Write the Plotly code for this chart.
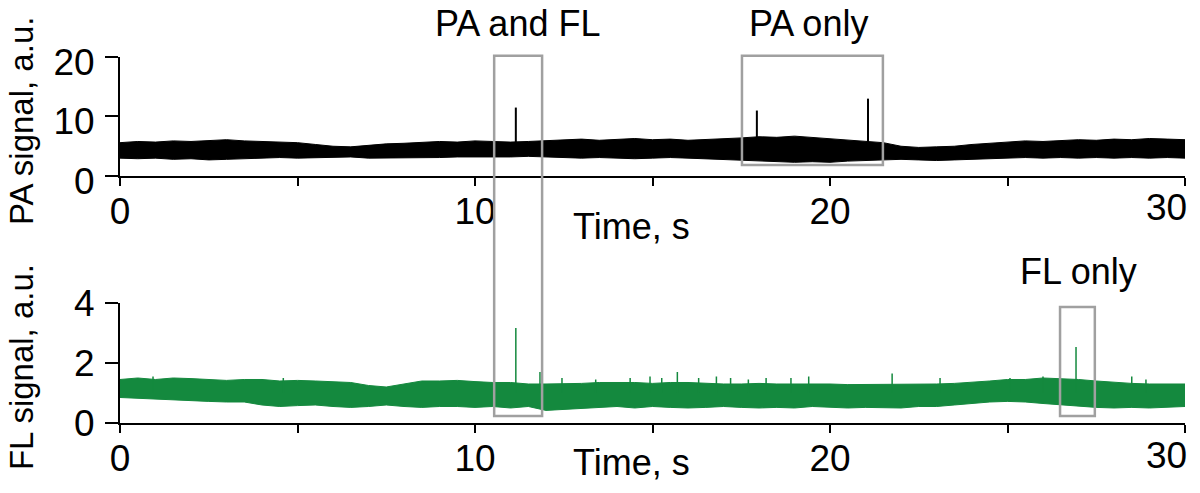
import plotly.graph_objects as go

# ---------------- data ----------------
time_knots = [i * 0.5 for i in range(61)]  # 0 .. 30 s

pa_upper = [5.6, 5.8, 5.7, 5.9, 5.8, 6.0, 6.1, 5.9, 5.8, 5.7,
            5.6, 5.3, 5.0, 4.9, 5.2, 5.4, 5.5, 5.6, 5.8, 5.7,
            5.9, 5.8, 5.7, 5.8, 5.9, 6.1, 6.2, 6.0, 6.2, 6.3,
            6.1, 6.2, 6.0, 6.1, 6.3, 6.4, 6.6, 6.5, 6.7, 6.5,
            6.3, 6.0, 5.8, 5.6, 5.0, 4.8, 4.9, 5.0, 5.3, 5.5,
            5.7, 5.9, 5.8, 6.0, 6.1, 6.0, 6.2, 6.1, 6.3, 6.2, 6.1]
pa_lower = [3.0, 2.9, 3.0, 2.8, 2.9, 2.7, 2.8, 2.9, 3.0, 3.1,
            3.0, 3.1, 3.1, 3.2, 3.0, 3.0, 3.1, 3.0, 3.1, 3.2,
            3.2, 3.1, 3.2, 3.3, 3.2, 3.1, 3.0, 3.1, 3.0, 2.9,
            3.0, 3.1, 3.0, 2.9, 2.8, 2.6, 2.5, 2.4, 2.3, 2.4,
            2.3, 2.5, 2.6, 2.7, 2.8, 2.7, 2.6, 2.7, 2.8, 2.9,
            3.0, 3.1, 3.0, 3.1, 3.0, 3.1, 3.0, 3.1, 3.0, 3.1, 3.0]

fl_upper = [1.45, 1.50, 1.45, 1.50, 1.48, 1.45, 1.42, 1.45, 1.45, 1.40,
            1.42, 1.40, 1.38, 1.35, 1.25, 1.20, 1.30, 1.40, 1.40, 1.42,
            1.38, 1.35, 1.35, 1.30, 1.30, 1.30, 1.32, 1.35, 1.35, 1.35,
            1.32, 1.35, 1.35, 1.32, 1.30, 1.30, 1.32, 1.30, 1.30, 1.32,
            1.30, 1.28, 1.28, 1.30, 1.28, 1.30, 1.30, 1.32, 1.35, 1.40,
            1.45, 1.45, 1.50, 1.48, 1.45, 1.40, 1.35, 1.32, 1.30, 1.30, 1.30]
fl_lower = [0.85, 0.82, 0.80, 0.78, 0.75, 0.72, 0.70, 0.70, 0.60, 0.55,
            0.58, 0.60, 0.55, 0.52, 0.55, 0.60, 0.55, 0.52, 0.55, 0.55,
            0.52, 0.55, 0.50, 0.55, 0.42, 0.45, 0.50, 0.52, 0.55, 0.50,
            0.55, 0.52, 0.50, 0.52, 0.55, 0.52, 0.50, 0.52, 0.50, 0.55,
            0.52, 0.50, 0.52, 0.50, 0.50, 0.55, 0.55, 0.60, 0.65, 0.70,
            0.72, 0.70, 0.65, 0.60, 0.55, 0.52, 0.50, 0.52, 0.50, 0.52, 0.55]

# detected events (time, peak height)
pa_spike_t = [11.15, 17.94, 21.07]
pa_spike_v = [11.5, 11.0, 13.0]
pa_base = 4.2

fl_spike_t = [11.15, 26.93]
fl_spike_v = [3.17, 2.53]
fl_base = 1.0

# small noise spikes in FL trace
fl_small_t = [0.93, 4.6, 11.83, 12.45, 13.4, 14.37, 14.93, 15.26, 15.7, 16.3,
              16.8, 17.2, 17.7, 18.2, 18.9, 19.4, 21.75, 23.1, 25.07, 26.0,
              28.5, 28.9]
fl_small_v = [1.55, 1.50, 1.70, 1.50, 1.45, 1.50, 1.55, 1.50, 1.70, 1.50,
              1.55, 1.50, 1.45, 1.50, 1.50, 1.55, 1.65, 1.50, 1.50, 1.55,
              1.55, 1.45]

# highlight boxes: (x0, x1, bottom value, bottom axis, top value, top axis)
boxes = [
    (10.54, 11.89, 0.23, "y2", 20.2, "y"),
    (17.52, 21.49, 1.83, "y", 20.2, "y"),
    (26.48, 27.46, 0.23, "y2", 3.87, "y2"),
]
box_labels = ["PA and FL", "PA only", "FL only"]
label_x = [11.2, 19.4, 27.0]

x_ticks = [0, 5, 10, 15, 20, 25, 30]
x_ticktext = ["0", "", "10", "", "20", "", ""]
x_last_label = "30"
pa_ticks = [0, 10, 20]
fl_ticks = [0, 2, 4]

# ---------------- style ----------------
BLACK = "#000000"
GREEN = "#14893e"
GRAY = "#a0a0a0"
FONT = "Liberation Sans, Arial, sans-serif"
PLOT_H = 493 - 57 - 70  # px

top_dom = [0.6749, 1.0]
bot_dom = [0.0, 0.3279]
pa_range = [0, 20]
fl_range = [0, 4]


def to_paper(v, axis):
    dom, rng = (top_dom, pa_range) if axis == "y" else (bot_dom, fl_range)
    return dom[0] + (v - rng[0]) / (rng[1] - rng[0]) * (dom[1] - dom[0])


def spikes(ts, vs, base):
    xs, ys = [], []
    for t, v in zip(ts, vs):
        xs += [t, t, None]
        ys += [base, v, None]
    return xs, ys


fig = go.Figure()

# PA band
fig.add_trace(go.Scatter(x=time_knots, y=pa_lower, mode="lines",
                         line=dict(color=BLACK, width=1), xaxis="x", yaxis="y",
                         showlegend=False, hoverinfo="skip"))
fig.add_trace(go.Scatter(x=time_knots, y=pa_upper, mode="lines", fill="tonexty",
                         fillcolor=BLACK, line=dict(color=BLACK, width=1),
                         xaxis="x", yaxis="y", showlegend=False))
sx, sy = spikes(pa_spike_t, pa_spike_v, pa_base)
fig.add_trace(go.Scatter(x=sx, y=sy, mode="lines", line=dict(color=BLACK, width=2),
                         xaxis="x", yaxis="y", showlegend=False))

# FL band
fig.add_trace(go.Scatter(x=time_knots, y=fl_lower, mode="lines",
                         line=dict(color=GREEN, width=1), xaxis="x2", yaxis="y2",
                         showlegend=False, hoverinfo="skip"))
fig.add_trace(go.Scatter(x=time_knots, y=fl_upper, mode="lines", fill="tonexty",
                         fillcolor=GREEN, line=dict(color=GREEN, width=1),
                         xaxis="x2", yaxis="y2", showlegend=False))
sx, sy = spikes(fl_small_t, fl_small_v, fl_base)
fig.add_trace(go.Scatter(x=sx, y=sy, mode="lines", line=dict(color=GREEN, width=1.5),
                         xaxis="x2", yaxis="y2", showlegend=False))
sx, sy = spikes(fl_spike_t, fl_spike_v, fl_base)
fig.add_trace(go.Scatter(x=sx, y=sy, mode="lines", line=dict(color=GREEN, width=1.5),
                         xaxis="x2", yaxis="y2", showlegend=False))

shapes = []
for x0, x1, b, bax, t, tax in boxes:
    shapes.append(dict(type="rect", xref="x", yref="paper", x0=x0, x1=x1,
                       y0=to_paper(b, bax), y1=to_paper(t, tax),
                       line=dict(color=GRAY, width=2.5), fillcolor="rgba(0,0,0,0)"))

annotations = []
label_y = [1.092, 1.092, 0.4126]
for txt, lx, ly in zip(box_labels, label_x, label_y):
    annotations.append(dict(text=txt, x=lx, xref="x", y=ly, yref="paper",
                            showarrow=False, xanchor="center", yanchor="middle",
                            font=dict(size=36, color=BLACK, family=FONT)))
for ly in [0.5366, -0.107]:
    annotations.append(dict(text="Time, s", x=14.4, xref="x", y=ly, yref="paper",
                            showarrow=False, xanchor="center", yanchor="middle",
                            font=dict(size=36, color=BLACK, family=FONT)))
for txt, ly in [("PA signal, a.u.", 0.825), ("FL signal, a.u.", 0.153)]:
    annotations.append(dict(text=txt, x=-0.0929, xref="paper", y=ly, yref="paper",
                            textangle=-90, showarrow=False, xanchor="center",
                            yanchor="middle",
                            font=dict(size=33, color=BLACK, family=FONT)))
# last x tick label, kept inside the figure (right-aligned to the axis end)
for dom in [top_dom, bot_dom]:
    annotations.append(dict(text=x_last_label, x=x_ticks[-1], xref="x",
                            y=dom[0] - 32 / PLOT_H, yref="paper", showarrow=False,
                            xanchor="right", yanchor="middle", xshift=4,
                            font=dict(size=37, color=BLACK, family=FONT)))

xaxis_common = dict(range=[0, 30], showline=True, linecolor=BLACK, linewidth=2,
                    ticks="outside", ticklen=8, tickwidth=2, tickcolor=BLACK,
                    tickvals=x_ticks, ticktext=x_ticktext, showgrid=False,
                    zeroline=False, ticklabelstandoff=-6, automargin=False,
                    tickfont=dict(size=37, color=BLACK, family=FONT))
yaxis_common = dict(showline=True, linecolor=BLACK, linewidth=2, ticks="outside",
                    ticklen=13, tickwidth=2, tickcolor=BLACK, showgrid=False,
                    zeroline=False, ticklabelstandoff=3, automargin=False,
                    tickfont=dict(size=37, color=BLACK, family=FONT))

fig.update_layout(
    width=1200, height=493,
    margin=dict(l=120, r=15, t=57, b=70),
    paper_bgcolor="white", plot_bgcolor="white",
    showlegend=False,
    xaxis=dict(anchor="y", **xaxis_common),
    yaxis=dict(domain=top_dom, range=pa_range, tickvals=pa_ticks, anchor="x",
               ticklabelshift=5, **yaxis_common),
    xaxis2=dict(anchor="y2", **xaxis_common),
    yaxis2=dict(domain=bot_dom, range=fl_range, tickvals=fl_ticks, anchor="x2",
                **yaxis_common),
    shapes=shapes,
    annotations=annotations,
)

fig.write_html("out.html", config={"displayModeBar": False},
               post_script="document.body.style.margin='0px';"
                           "document.body.style.overflow='hidden';")
